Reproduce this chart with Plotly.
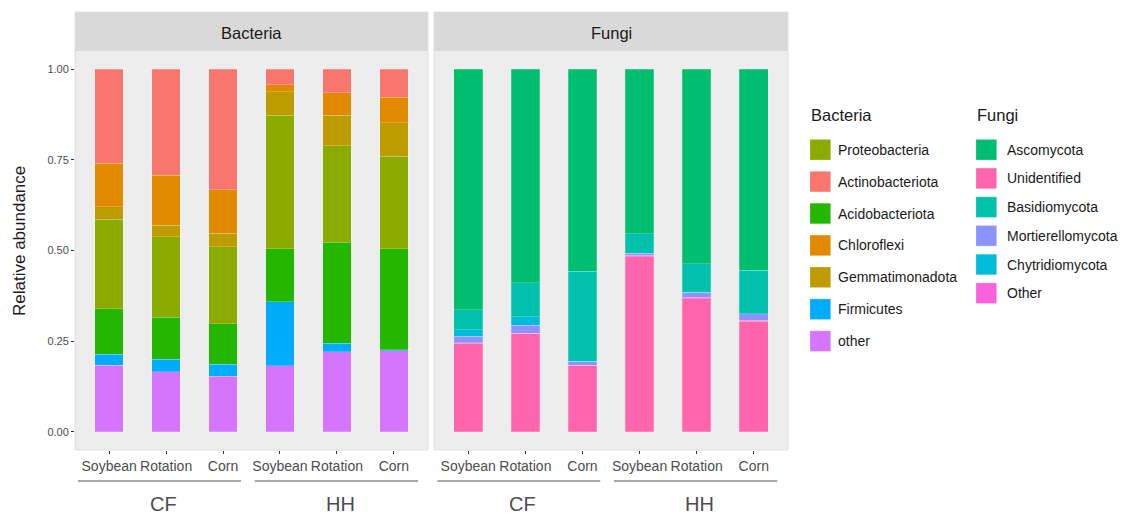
import plotly.graph_objects as go
from plotly.subplots import make_subplots

# ---- data -------------------------------------------------------------
sites = ["CF", "HH"]
crops = ["Soybean", "Rotation", "Corn"]

# bacterial phyla, stacked bottom -> top (samples: CF Soy/Rot/Corn, HH Soy/Rot/Corn)
bac_other = [0.184, 0.166, 0.154, 0.182, 0.221, 0.223]
bac_firmicutes = [0.030, 0.034, 0.033, 0.177, 0.023, 0.004]
bac_acidobacteriota = [0.126, 0.116, 0.111, 0.146, 0.279, 0.278]
bac_proteobacteria = [0.246, 0.222, 0.213, 0.368, 0.266, 0.255]
bac_gemmatimonadota = [0.034, 0.032, 0.036, 0.065, 0.084, 0.092]
bac_chloroflexi = [0.121, 0.138, 0.120, 0.019, 0.062, 0.071]
bac_actinobacteriota = [0.259, 0.292, 0.333, 0.043, 0.065, 0.077]

# fungal phyla, stacked bottom -> top
fun_unidentified = [0.244, 0.270, 0.182, 0.483, 0.367, 0.305]
fun_other = [0.002, 0.002, 0.002, 0.004, 0.004, 0.003]
fun_mortierellomycota = [0.017, 0.022, 0.009, 0.004, 0.013, 0.017]
fun_chytridiomycota = [0.019, 0.024, 0.002, 0.002, 0.001, 0.001]
fun_basidiomycota = [0.055, 0.093, 0.248, 0.053, 0.079, 0.120]
fun_ascomycota = [0.663, 0.589, 0.557, 0.454, 0.536, 0.554]

bacteria_stack = [
    ("other", bac_other, "#D575FE"),
    ("Firmicutes", bac_firmicutes, "#00ACFC"),
    ("Acidobacteriota", bac_acidobacteriota, "#24B700"),
    ("Proteobacteria", bac_proteobacteria, "#8CAB00"),
    ("Gemmatimonadota", bac_gemmatimonadota, "#BE9C00"),
    ("Chloroflexi", bac_chloroflexi, "#E18A00"),
    ("Actinobacteriota", bac_actinobacteriota, "#F8766D"),
]
fungi_stack = [
    ("Unidentified", fun_unidentified, "#FF65AC"),
    ("Other", fun_other, "#F962DD"),
    ("Mortierellomycota", fun_mortierellomycota, "#8B93FF"),
    ("Chytridiomycota", fun_chytridiomycota, "#00BBDA"),
    ("Basidiomycota", fun_basidiomycota, "#00C1AB"),
    ("Ascomycota", fun_ascomycota, "#00BE70"),
]

bacteria_legend = ["Proteobacteria", "Actinobacteriota", "Acidobacteriota",
                   "Chloroflexi", "Gemmatimonadota", "Firmicutes", "other"]
fungi_legend = ["Ascomycota", "Unidentified", "Basidiomycota",
                "Mortierellomycota", "Chytridiomycota", "Other"]

y_ticks = [0, 0.25, 0.5, 0.75, 1.0]
y_ticktext = ["0.00", "0.25", "0.50", "0.75", "1.00"]

# ---- layout helpers -----------------------------------------------------
W, H = 1126, 515
ML, MR, MT, MB = 75, 338, 12, 65
PW, PH = W - ML - MR, H - MT - MB


def fx(px):
    return (px - ML) / PW


def fy(py):
    return (H - MB - py) / PH


FONT = "Liberation Sans, Arial, sans-serif"
samples = [f"{s}|{c}" for s in sites for c in crops]
tick_labels = [c for s in sites for c in crops]

strip_bottom = 51
panels = [("Bacteria", 0.0, fx(428)), ("Fungi", fx(434), 1.0)]

fig = make_subplots(rows=1, cols=2, shared_yaxes=True, horizontal_spacing=0.01)

for col, stack in ((1, bacteria_stack), (2, fungi_stack)):
    for name, vals, color in stack:
        fig.add_trace(
            go.Bar(
                x=samples, y=vals, name=name, width=0.5,
                marker=dict(color=color, line=dict(color="rgba(255,255,255,0.35)", width=0.6)),
                showlegend=False,
                hovertemplate=name + ": %{y:.3f}<extra></extra>",
            ),
            row=1, col=col,
        )

fig.update_layout(
    width=W, height=H, barmode="stack",
    margin=dict(l=ML, r=MR, t=MT, b=MB),
    paper_bgcolor="white", plot_bgcolor="#EDEDED",
    font=dict(family=FONT, color="#1A1A1A"),
)


def label(x, y, text, size, color="#1A1A1A", xanchor="center", angle=0):
    fig.add_annotation(x=x, y=y, xref="paper", yref="paper", text=text,
                       showarrow=False, xanchor=xanchor, yanchor="middle",
                       textangle=angle,
                       font=dict(size=size, color=color, family=FONT))


for i, (title, x0, x1) in enumerate(panels, start=1):
    xa = "xaxis" if i == 1 else f"xaxis{i}"
    ya = "yaxis" if i == 1 else f"yaxis{i}"
    fig.layout[xa].update(
        domain=[x0, x1], type="category", range=[-0.6, 5.6],
        tickmode="array", tickvals=samples, ticktext=tick_labels, tickangle=0,
        ticks="outside", ticklen=3, tickcolor="#333333", tickwidth=1,
        tickfont=dict(size=14, color="#4D4D4D", family=FONT),
        showgrid=False, zeroline=False, showline=False,
    )
    fig.layout[ya].update(
        domain=[0, fy(strip_bottom)], range=[-0.05, 1.05],
        tickvals=y_ticks, ticktext=y_ticktext,
        ticks="outside" if i == 1 else "", ticklen=3, tickcolor="#333333", tickwidth=1,
        showticklabels=(i == 1),
        tickfont=dict(size=11, color="#4D4D4D", family=FONT),
        showgrid=False, zeroline=False, showline=False,
    )
    # facet strip
    fig.add_shape(type="rect", xref="paper", yref="paper",
                  x0=x0, x1=x1, y0=fy(strip_bottom), y1=1,
                  fillcolor="#D9D9D9", line=dict(width=0), layer="below")
    # facet frame
    fig.add_shape(type="rect", xref="paper", yref="paper",
                  x0=x0, x1=x1, y0=0, y1=1,
                  fillcolor="rgba(0,0,0,0)", line=dict(color="#E0E0E0", width=1))
    label((x0 + x1) / 2, fy(33), title, 16.5)

# site grouping lines and labels beneath the crop labels
group_spans = [(78, 241, 163), (254.7, 418, 340)]
panel_offset = 434 - 74.7
for p in range(2):
    for s, (a, b, c) in enumerate(group_spans):
        off = p * panel_offset
        fig.add_shape(type="line", xref="paper", yref="paper",
                      x0=fx(a + off), x1=fx(b + off), y0=fy(481), y1=fy(481),
                      line=dict(color="#555555", width=1))
        label(fx(c + off), fy(504), sites[s], 20, color="#4D4D4D")

# y axis title
label(fx(20), fy(241), "Relative abundance", 17, angle=-90)

# legends drawn as keyed columns
bac_colors = {n: c for n, _, c in bacteria_stack}
fun_colors = {n: c for n, _, c in fungi_stack}
legend_cols = [
    ("Bacteria", bacteria_legend, bac_colors, 810, 836, 31.9),
    ("Fungi", fungi_legend, fun_colors, 976, 1005, 28.7),
]
for title, names, colors, kx, tx, step in legend_cols:
    label(fx(kx - 1), fy(115), title, 16.5, xanchor="left")
    for j, n in enumerate(names):
        cy = 149.7 + j * step
        fig.add_shape(type="rect", xref="paper", yref="paper",
                      x0=fx(kx), x1=fx(kx + 20.7), y0=fy(cy + 10.3), y1=fy(cy - 10.3),
                      fillcolor=colors[n], line=dict(color="rgba(255,255,255,0.4)", width=0.6))
        label(fx(tx), fy(cy), n, 14, xanchor="left")

fig.write_html("out.html")
